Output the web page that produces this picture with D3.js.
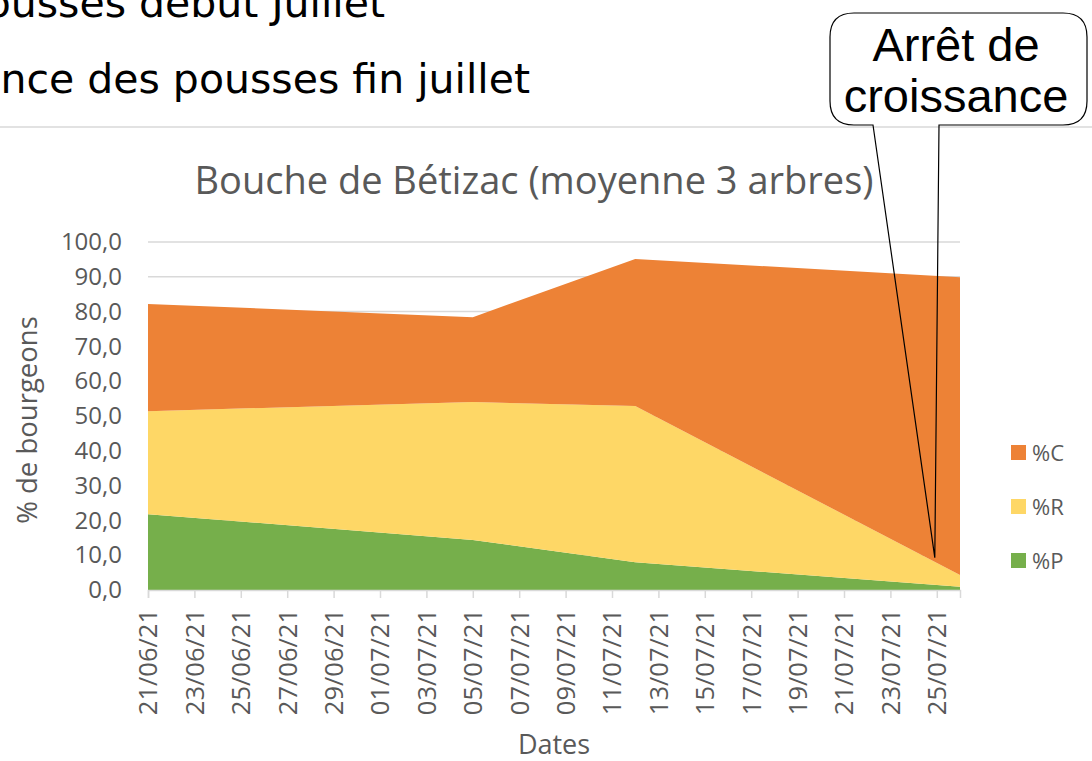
<!DOCTYPE html>
<html>
<head>
<meta charset="utf-8">
<script src="https://cdn.jsdelivr.net/npm/d3@7"></script>
<style>
  body { margin: 0; background: #fff; }
  svg { display: block; }
</style>
</head>
<body>
<div id="chart"></div>
<script>
// data
const dates = ["2021-06-21", "2021-07-05", "2021-07-12", "2021-07-26"];
const pctP = [21.8, 14.4, 8.0, 0.9];
const pctR = [29.6, 39.6, 44.9, 3.4];
const pctC = [30.8, 24.4, 42.2, 85.6];
const seriesNames = ["%P", "%R", "%C"];
const seriesColors = ["#76AF4B", "#FED766", "#ED8236"];
const yTicks = [0, 10, 20, 30, 40, 50, 60, 70, 80, 90, 100];
const chartTitle = "Bouche de Bétizac (moyenne 3 arbres)";
const slideLines = ["ousses début Juillet", "nce des pousses fin juillet"];
const calloutLines = ["Arrêt de", "croissance"];

const W = 1092, H = 761;
const margin = {left: 148, right: 132, top: 242, bottom: 171};
const textGray = "#595959";
const chartFont = "'Open Sans', 'Noto Sans', sans-serif";

const svg = d3.select("#chart").append("svg")
    .attr("width", W).attr("height", H);

// slide text behind the chart
const slide = svg.append("g");
slide.selectAll("text").data(slideLines).enter().append("text")
    .attr("x", (d, i) => i == 0 ? 385 : 530)
    .attr("y", (d, i) => i == 0 ? 17 : 93)
    .attr("text-anchor", "end")
    .attr("font-family", "'DejaVu Sans', Verdana, sans-serif")
    .attr("font-size", 41)
    .attr("fill", "#000")
    .text(d => d);

// chart frame top border
svg.append("line")
    .attr("x1", 0).attr("x2", W).attr("y1", 127).attr("y2", 127)
    .attr("stroke", "#d9d9d9").attr("stroke-width", 1.5);

const parse = d3.timeParse("%Y-%m-%d");
const rows = dates.map((d, i) => ({date: parse(d), "%P": pctP[i], "%R": pctR[i], "%C": pctC[i]}));

const x = d3.scaleTime()
    .domain([parse("2021-06-21"), parse("2021-07-26")])
    .range([margin.left, W - margin.right]);
const y = d3.scaleLinear()
    .domain([0, 100])
    .range([H - margin.bottom, margin.top]);

const g = svg.append("g");

// gridlines
g.selectAll(".grid").data(yTicks).enter().append("line")
    .attr("x1", x.range()[0]).attr("x2", x.range()[1])
    .attr("y1", d => y(d)).attr("y2", d => y(d))
    .attr("stroke", "#d9d9d9").attr("stroke-width", 1.5);

const stack = d3.stack().keys(seriesNames)(rows);
const area = d3.area()
    .x(d => x(d.data.date))
    .y0(d => y(d[0]))
    .y1(d => y(d[1]));

g.selectAll(".layer").data(stack).enter().append("path")
    .attr("d", area)
    .attr("fill", (d, i) => seriesColors[i]);

// x axis
const tickDates = d3.timeDay.range(parse("2021-06-21"), parse("2021-07-27"), 2);
const xAxis = g.append("g")
    .attr("transform", `translate(0,${y(0)})`)
    .call(d3.axisBottom(x)
        .tickValues(tickDates)
        .tickSize(8)
        .tickFormat(d3.timeFormat("%d/%m/%y")));
xAxis.select(".domain").attr("stroke", "#d9d9d9").attr("stroke-width", 1.5);
xAxis.selectAll(".tick line").attr("stroke", "#d9d9d9").attr("stroke-width", 1.5);
xAxis.selectAll(".tick text")
    .attr("transform", "rotate(-90)")
    .attr("x", -19).attr("y", 0).attr("dy", "0.35em")
    .attr("text-anchor", "end")
    .attr("font-family", chartFont)
    .attr("font-size", 25.5)
    .attr("fill", textGray);

// y axis
const locale = d3.formatLocale({decimal: ",", thousands: " ", grouping: [3], currency: ["", "€"]});
const yAxis = g.append("g")
    .attr("transform", `translate(${margin.left},0)`)
    .call(d3.axisLeft(y).tickValues(yTicks).tickSize(0).tickPadding(26)
        .tickFormat(locale.format(".1f")));
yAxis.select(".domain").remove();
yAxis.selectAll(".tick text")
    .attr("font-family", chartFont)
    .attr("font-size", 24)
    .attr("fill", textGray);

// titles
svg.append("text")
    .attr("x", 534).attr("y", 194)
    .attr("text-anchor", "middle")
    .attr("font-family", chartFont)
    .attr("font-size", 38)
    .attr("fill", textGray)
    .text(chartTitle);

svg.append("text")
    .attr("transform", "translate(37,420) rotate(-90)")
    .attr("text-anchor", "middle")
    .attr("font-family", chartFont)
    .attr("font-size", 27.5)
    .attr("fill", textGray)
    .text("% de bourgeons");

svg.append("text")
    .attr("x", 554).attr("y", 754)
    .attr("text-anchor", "middle")
    .attr("font-family", chartFont)
    .attr("font-size", 27)
    .attr("fill", textGray)
    .text("Dates");

// legend (top to bottom: %C, %R, %P)
const legendItems = seriesNames.map((n, i) => ({name: n, color: seriesColors[i]})).reverse();
const legend = svg.append("g").selectAll("g").data(legendItems).enter().append("g")
    .attr("transform", (d, i) => `translate(1011,${445 + i * 54})`);
legend.append("rect").attr("width", 15).attr("height", 15).attr("fill", d => d.color);
legend.append("text")
    .attr("x", 21).attr("y", 8).attr("dy", "0.35em")
    .attr("font-family", chartFont)
    .attr("font-size", 22)
    .attr("fill", textGray)
    .text(d => d.name);

// callout
const bx0 = 830, bx1 = 1087, by0 = 13, by1 = 125, r = 24;
const tip = [x(parse("2021-07-25")) - 2, y(pctP[3] + pctR[3] + 5)];
const p = d3.path();
p.moveTo(bx0 + r, by0);
p.lineTo(bx1 - r, by0);
p.quadraticCurveTo(bx1, by0, bx1, by0 + r);
p.lineTo(bx1, by1 - r);
p.quadraticCurveTo(bx1, by1, bx1 - r, by1);
p.lineTo(939, by1);
p.lineTo(tip[0], tip[1]);
p.lineTo(873, by1);
p.lineTo(bx0 + r, by1);
p.quadraticCurveTo(bx0, by1, bx0, by1 - r);
p.lineTo(bx0, by0 + r);
p.quadraticCurveTo(bx0, by0, bx0 + r, by0);
p.closePath();
svg.append("path")
    .attr("d", p.toString())
    .attr("fill", "none")
    .attr("stroke", "#000")
    .attr("stroke-width", 1.2);
svg.append("rect")
    .attr("x", bx0 + 2).attr("y", by0 + 2)
    .attr("width", bx1 - bx0 - 4).attr("height", by1 - by0 - 4)
    .attr("rx", r - 2).attr("fill", "#fff");
svg.selectAll(".callout").data(calloutLines).enter().append("text")
    .attr("x", 956)
    .attr("y", (d, i) => 61 + i * 51)
    .attr("text-anchor", "middle")
    .attr("font-family", "'Liberation Sans', Arial, sans-serif")
    .attr("font-size", 47)
    .attr("fill", "#000")
    .text(d => d);
</script>
</body>
</html>
